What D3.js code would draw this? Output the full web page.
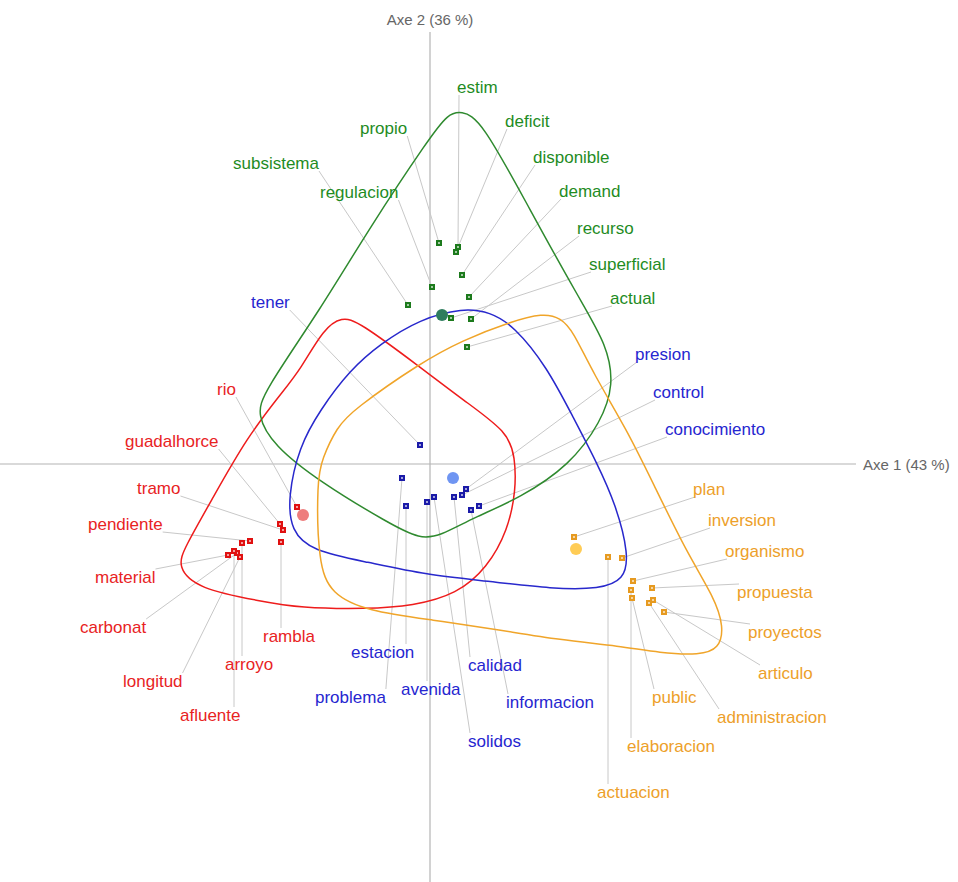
<!DOCTYPE html>
<html>
<head>
<meta charset="utf-8">
<script src="https://cdnjs.cloudflare.com/ajax/libs/d3/7.8.5/d3.min.js"></script>
<style>
    body{margin:0;background:#fff;}
    #chart-area{width:958px;height:882px;}
    text{font-family:"Liberation Sans", Arial, sans-serif;}
</style>
</head>
<body>
<div id="chart-area"></div>
<script>
// factor map data (Axe 1 / Axe 2 scores)
const axisTitles = ["Axe 1 (43 %)", "Axe 2 (36 %)"];

const greenWords = ["estim","deficit","propio","disponible","subsistema","demand","regulacion","recurso","superficial","actual"];
const greenPoints = [[0.28,2.17],[0.26,2.12],[0.09,2.21],[0.32,1.89],[-0.22,1.59],[0.39,1.67],[0.02,1.77],[0.41,1.45],[0.21,1.46],[0.37,1.17]];
const greenLabels = [[0.27,3.77],[0.75,3.43],[-0.70,3.36],[1.03,3.07],[-1.97,3.01],[1.29,2.73],[-1.10,2.72],[1.47,2.36],[1.59,2.00],[1.80,1.66]];
const greenCentroid = [0.12,1.49];
const greenHull = [[0.31,3.53],[0.51,3.45],[1.00,2.54],[1.50,1.64],[1.77,1.19],[1.84,0.79],[1.71,0.42],[1.40,-0.01],[0.90,-0.34],[0.43,-0.54],[0.10,-0.72],[-0.10,-0.75],[-0.40,-0.60],[-1.10,-0.18],[-1.57,0.19],[-1.73,0.49],[-1.67,0.71],[-1.10,1.54],[-0.60,2.37],[0.00,3.27],[0.18,3.50]];

const blueWords = ["tener","presion","control","conocimiento","estacion","problema","avenida","calidad","informacion","solidos"];
const bluePoints = [[-0.10,0.19],[0.36,-0.25],[0.32,-0.31],[0.49,-0.42],[-0.24,-0.42],[-0.28,-0.14],[-0.03,-0.38],[0.24,-0.33],[0.41,-0.46],[0.04,-0.33]];
const blueLabels = [[-1.79,1.62],[2.05,1.10],[2.23,0.72],[2.35,0.35],[-0.79,-1.88],[-1.15,-2.33],[-0.29,-2.25],[0.38,-2.01],[0.76,-2.38],[0.38,-2.77]];
const blueCentroid = [0.23,-0.14];
const blueHull = [[-0.10,1.45],[0.33,1.56],[0.60,1.52],[0.84,1.38],[1.17,0.97],[1.43,0.47],[1.67,0.01],[1.86,-0.41],[1.99,-0.91],[1.94,-1.16],[1.70,-1.25],[1.23,-1.25],[0.57,-1.17],[-0.03,-1.11],[-0.63,-0.98],[-1.18,-0.87],[-1.39,-0.67],[-1.42,-0.33],[-1.31,0.17],[-1.10,0.54],[-0.80,0.94],[-0.50,1.20]];

const redWords = ["rio","guadalhorce","tramo","pendiente","material","carbonat","rambla","longitud","arroyo","afluente"];
const redPoints = [[-1.33,-0.43],[-1.50,-0.60],[-1.47,-0.66],[-1.80,-0.77],[-2.02,-0.91],[-1.93,-0.89],[-1.49,-0.78],[-1.90,-0.93],[-1.88,-0.79],[-1.96,-0.87]];
const redLabels = [[-2.13,0.75],[-3.05,0.23],[-2.93,-0.24],[-3.42,-0.60],[-3.35,-1.13],[-3.50,-1.63],[-1.67,-1.72],[-3.07,-2.17],[-2.05,-2.00],[-2.50,-2.51]];
const redCentroid = [-1.27,-0.51];
const redHull = [[-1.30,0.94],[-1.06,1.36],[-0.88,1.47],[-0.72,1.43],[-0.10,0.97],[0.33,0.64],[0.78,0.32],[0.85,0.07],[0.86,-0.26],[0.78,-0.66],[0.57,-1.04],[0.27,-1.30],[-0.17,-1.42],[-0.63,-1.45],[-1.30,-1.44],[-1.70,-1.37],[-2.32,-1.25],[-2.53,-1.03],[-2.45,-0.83],[-2.20,-0.39],[-1.83,0.27],[-1.46,0.74]];

const orangeWords = ["plan","inversion","organismo","propuesta","proyectos","articulo","public","administracion","elaboracion","actuacion"];
const orangePoints = [[1.44,-0.73],[1.92,-0.94],[2.03,-1.17],[2.22,-1.24],[2.34,-1.48],[2.23,-1.36],[2.02,-1.34],[2.19,-1.39],[2.01,-1.26],[1.78,-0.93]];
const orangeLabels = [[2.63,-0.25],[2.78,-0.56],[2.95,-0.87],[3.07,-1.28],[3.18,-1.68],[3.28,-2.09],[2.22,-2.33],[2.87,-2.53],[1.97,-2.82],[1.67,-3.28]];
const orangeCentroid = [1.46,-0.85];
const orangeHull = [[-0.77,0.54],[-0.10,1.01],[0.33,1.24],[0.80,1.42],[1.13,1.51],[1.31,1.46],[1.43,1.33],[1.63,0.91],[1.97,0.34],[2.23,-0.19],[2.57,-0.89],[2.84,-1.33],[2.94,-1.63],[2.89,-1.85],[2.70,-1.91],[2.30,-1.89],[1.90,-1.82],[1.30,-1.76],[0.70,-1.66],[0.03,-1.56],[-0.63,-1.47],[-0.99,-1.30],[-1.12,-0.99],[-1.13,-0.16],[-1.08,0.05],[-0.93,0.37]];

class FactorMap{
    constructor(parentElement){
        this.parentElement = parentElement;
        this.classes = [
            {words: redWords, points: redPoints, labels: redLabels, centroid: redCentroid, hull: redHull,
                line: "#ee1c1c", text: "#e8231f", pt: "#e01010", cen: "#ee7d7d"},
            {words: greenWords, points: greenPoints, labels: greenLabels, centroid: greenCentroid, hull: greenHull,
                line: "#2f8a2f", text: "#1f8c1f", pt: "#1c7a1c", cen: "#2e7d5e"},
            {words: blueWords, points: bluePoints, labels: blueLabels, centroid: blueCentroid, hull: blueHull,
                line: "#2828cc", text: "#2626d0", pt: "#1a1aa8", cen: "#6f95f2"},
            {words: orangeWords, points: orangePoints, labels: orangeLabels, centroid: orangeCentroid, hull: orangeHull,
                line: "#f0a52a", text: "#eda02a", pt: "#e69a20", cen: "#ffcc55"}
        ];
        this.initVis();
    }

    initVis(){
        let vis = this;
        vis.width = 958;
        vis.height = 882;

        vis.svg = d3.select("#" + vis.parentElement).append("svg")
            .attr("width", vis.width)
            .attr("height", vis.height);

        // 1 unit = 100px, origin at the axes crossing
        vis.x = d3.scaleLinear().domain([-4.30, 5.28]).range([0, vis.width]);
        vis.y = d3.scaleLinear().domain([4.64, -4.18]).range([0, vis.height]);

        //axes
        vis.svg.append("line")
            .attr("x1", vis.x(0)).attr("x2", vis.x(0))
            .attr("y1", 32).attr("y2", vis.height)
            .attr("stroke", "#b4b4b4").attr("stroke-width", 1.2);
        vis.svg.append("line")
            .attr("x1", 0).attr("x2", 856)
            .attr("y1", vis.y(0)).attr("y2", vis.y(0))
            .attr("stroke", "#b4b4b4").attr("stroke-width", 1.2);

        vis.svg.append("text")
            .attr("x", vis.x(0)).attr("y", 25)
            .attr("text-anchor", "middle")
            .attr("fill", "#666").style("font-size", "15px")
            .text(axisTitles[1]);
        vis.svg.append("text")
            .attr("x", 863).attr("y", vis.y(0) + 6)
            .attr("fill", "#666").style("font-size", "15px")
            .text(axisTitles[0]);

        vis.lineLayer = vis.svg.append("g");
        vis.hullLayer = vis.svg.append("g");
        vis.pointLayer = vis.svg.append("g");
        vis.labelLayer = vis.svg.append("g");

        // smooth closed outline through the class envelope
        vis.hullPath = d3.line()
            .x(d => vis.x(d[0]))
            .y(d => vis.y(d[1]))
            .curve(d3.curveBasisClosed);

        vis.classes.forEach(c => vis.drawClass(c));
    }

    drawClass(c){
        let vis = this;

        vis.hullLayer.append("path")
            .attr("d", vis.hullPath(c.hull))
            .attr("fill", "none")
            .attr("stroke", c.line)
            .attr("stroke-width", 1.5);

        vis.pointLayer.append("circle")
            .attr("cx", vis.x(c.centroid[0]))
            .attr("cy", vis.y(c.centroid[1]))
            .attr("r", 6)
            .attr("fill", c.cen);

        c.words.forEach((w, i) => {
            let px = vis.x(c.points[i][0]), py = vis.y(c.points[i][1]);
            let lx = vis.x(c.labels[i][0]), ly = vis.y(c.labels[i][1]);

            let t = vis.labelLayer.append("text")
                .attr("x", lx).attr("y", ly)
                .attr("dy", "0.35em")
                .attr("fill", c.text)
                .style("font-size", "17px")
                .text(w);
            let tw = t.node().getComputedTextLength();

            // leader line ends on the label edge closest to the point
            let ex = Math.max(lx + 2, Math.min(px, lx + tw));
            let ey = ly < py ? ly + 8 : ly - 8;
            vis.lineLayer.append("line")
                .attr("x1", px).attr("y1", py)
                .attr("x2", ex).attr("y2", ey)
                .attr("stroke", "#c8c8c8")
                .attr("stroke-width", 1);

            vis.pointLayer.append("rect")
                .attr("x", px - 3).attr("y", py - 3)
                .attr("width", 6).attr("height", 6)
                .attr("fill", c.pt);
            vis.pointLayer.append("rect")
                .attr("x", px - 1).attr("y", py - 1)
                .attr("width", 2).attr("height", 2)
                .attr("fill", "#fff").attr("opacity", 0.6);
        });
    }
}

new FactorMap("chart-area");
</script>
</body>
</html>
